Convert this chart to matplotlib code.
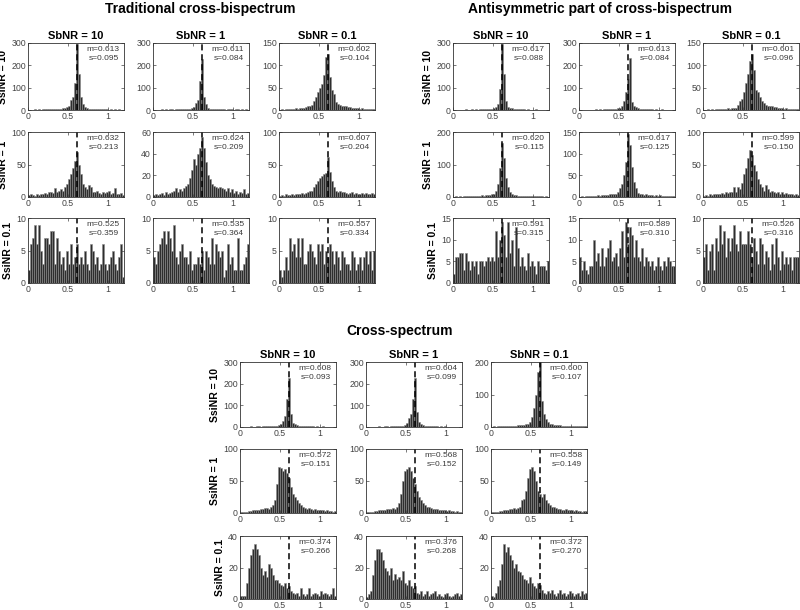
import numpy as np
import matplotlib
matplotlib.use("Agg")
import matplotlib.pyplot as plt

plt.rcParams['font.family'] = ['Liberation Sans', 'DejaVu Sans']

# histogram counts, 48 bins on [0, 1.2]; rows = SsiNR 10, 1, 0.1; cols = SbNR 10, 1, 0.1
trad_10_10 = [2,1,2,3,2,3,2,3,4,3,3,4,3,4,5,5,6,8,10,15,20,45,60,120,295,160,60,25,12,8,6,5,4,4,3,4,3,3,4,3,2,3,2,3,2,3,2,2]
trad_10_1 = [1,2,1,2,3,2,3,2,3,3,2,3,4,3,4,3,3,4,6,8,15,30,45,130,230,60,25,10,6,4,4,3,3,4,3,3,2,3,4,3,2,3,3,2,3,2,3,2]
trad_10_01 = [1,2,1,2,2,3,2,3,4,3,5,4,5,6,8,10,12,20,28,40,50,58,78,118,125,75,45,35,18,14,12,10,8,9,6,7,5,4,5,4,3,4,3,3,2,3,2,3]
trad_1_10 = [3,4,3,2,4,3,5,4,6,5,7,8,6,14,8,10,12,10,15,20,28,35,45,55,70,50,35,20,15,12,18,15,8,7,10,6,5,8,6,7,9,5,6,14,5,4,6,3]
trad_1_1 = [2,3,2,3,4,2,5,3,4,5,6,8,5,7,6,8,10,12,18,25,35,30,40,45,55,45,32,20,17,12,10,9,8,9,8,7,6,8,5,7,4,6,3,5,4,7,3,4]
trad_1_01 = [2,3,2,4,3,3,4,3,4,5,4,6,5,6,8,10,10,15,20,25,30,33,35,37,62,38,25,15,10,8,9,7,8,6,5,6,7,5,6,4,5,6,5,6,4,5,6,4]
trad_01_10 = [2,6,7,9,6,9,5,3,7,7,6,8,8,3,7,5,3,4,2,5,3,6,3,4,6,3,4,3,5,3,2,6,5,3,4,2,3,6,3,2,3,4,5,3,2,4,6,1]
trad_01_1 = [4,3,5,6,7,8,6,8,7,5,9,4,3,5,6,4,4,3,5,2,3,3,4,3,5,2,5,4,3,7,3,6,5,4,5,1,2,6,3,4,2,2,7,2,2,3,4,6]
trad_01_01 = [2,1,2,4,2,7,5,6,4,7,4,7,3,3,5,6,5,4,3,6,5,6,3,5,4,6,5,3,5,4,2,5,4,3,3,2,5,4,2,3,4,2,4,5,3,5,2,5]

anti_10_10 = [1,2,1,2,2,1,3,2,2,3,2,3,2,4,3,3,4,5,5,6,8,15,25,95,295,160,40,15,10,8,6,5,4,4,3,3,2,3,2,2,2,3,2,2,1,2,2,1]
anti_10_1 = [1,1,2,1,2,2,1,2,3,2,3,2,3,3,4,3,4,5,6,8,10,20,40,80,140,235,35,20,12,8,6,5,4,3,4,3,3,2,3,2,2,3,2,2,1,2,1,2]
anti_10_01 = [1,1,2,1,2,1,2,2,3,2,3,3,4,3,5,5,5,12,20,25,40,60,80,110,125,90,45,40,30,20,15,12,10,9,8,6,7,5,4,5,3,4,3,3,2,3,2,2]
anti_1_10 = [1,2,1,2,1,2,3,2,3,3,4,3,4,3,5,4,5,6,7,8,8,20,40,90,165,120,60,30,15,8,6,5,4,4,3,3,4,3,2,3,2,2,3,2,2,1,2,1]
anti_1_1 = [1,2,1,2,2,3,2,3,3,4,3,4,5,4,5,6,6,7,8,12,20,30,50,80,145,120,70,35,20,10,8,6,5,6,4,5,4,3,4,3,4,3,2,3,2,3,2,2]
anti_1_01 = [2,3,2,4,3,4,5,4,5,6,5,7,6,8,7,15,8,15,12,22,35,45,60,72,65,50,40,28,20,15,10,18,12,8,10,7,6,8,5,7,4,6,5,4,5,3,4,3]
anti_01_10 = [2,6,6,7,7,3,7,5,3,5,4,5,2,5,5,4,5,6,5,6,5,12,6,10,14,11,6,14,7,10,4,13,8,4,6,4,3,7,4,5,4,2,5,4,4,4,3,5]
anti_01_1 = [6,3,5,3,2,4,4,10,5,7,4,8,4,6,8,10,5,6,7,4,8,12,6,14,9,13,11,6,10,6,5,8,4,6,5,4,5,3,4,6,4,3,5,4,6,5,4,4]
anti_01_01 = [4,6,2,5,6,2,7,5,9,6,8,4,7,5,7,9,6,5,8,6,6,6,8,6,4,7,5,3,7,6,3,5,4,2,6,3,7,4,2,5,3,4,3,4,2,4,4,4]

cross_10_10 = [1,2,1,2,2,3,2,2,3,3,2,3,3,4,3,4,4,5,6,8,15,30,50,130,225,60,20,12,8,6,5,4,4,3,3,4,3,2,3,2,2,3,2,2,1,2,2,1]
cross_10_1 = [1,1,2,1,2,2,3,2,2,3,3,2,3,3,4,3,4,5,6,8,20,40,60,130,225,70,25,12,8,6,5,4,4,3,3,3,2,3,2,3,2,2,1,2,2,1,2,1]
cross_10_01 = [1,2,1,2,2,3,2,3,3,4,3,4,4,5,5,6,6,8,10,15,30,60,100,170,200,80,40,25,15,10,8,7,6,5,5,4,4,3,4,3,3,2,3,2,2,3,2,2]
cross_1_10 = [1,1,2,2,3,3,4,5,5,4,6,7,8,8,7,9,12,20,45,72,70,65,68,62,55,40,30,25,20,15,12,10,8,7,8,6,5,6,5,4,4,5,3,4,3,3,2,3]
cross_1_1 = [1,1,1,2,3,3,4,4,5,5,6,6,7,8,7,10,15,30,50,65,68,72,65,55,45,35,25,20,16,12,10,9,8,7,6,6,5,5,4,4,3,4,3,3,2,3,2,2]
cross_1_01 = [1,1,2,2,3,3,4,4,5,6,6,8,7,8,10,20,22,35,55,68,72,65,50,35,30,25,30,20,15,12,10,9,8,7,6,5,5,6,4,5,4,3,4,3,3,2,3,3]
cross_01_10 = [2,2,2,10,20,28,32,35,32,28,20,15,18,14,22,20,15,12,12,10,9,8,10,7,8,5,4,3,4,2,7,3,2,3,7,2,3,4,3,2,5,3,4,3,2,3,7,2]
cross_01_1 = [1,3,5,15,25,32,32,30,25,20,18,15,20,12,16,13,14,12,18,10,9,12,8,7,8,4,3,5,2,3,5,2,3,4,5,2,3,2,1,3,4,2,1,2,3,4,2,3]
cross_01_01 = [2,1,4,8,12,22,35,30,33,28,25,20,22,18,17,15,13,12,10,14,10,8,7,10,9,6,4,3,5,4,6,3,2,4,6,3,4,2,3,5,4,2,3,4,2,5,3,4]

trad_m = ["0.613", "0.611", "0.602", "0.632", "0.624", "0.607", "0.525", "0.535", "0.557"]
trad_s = ["0.095", "0.084", "0.104", "0.213", "0.209", "0.204", "0.359", "0.364", "0.334"]
anti_m = ["0.617", "0.613", "0.601", "0.620", "0.617", "0.599", "0.591", "0.589", "0.526"]
anti_s = ["0.088", "0.084", "0.096", "0.115", "0.125", "0.150", "0.315", "0.310", "0.316"]
cross_m = ["0.608", "0.604", "0.600", "0.572", "0.568", "0.558", "0.374", "0.376", "0.372"]
cross_s = ["0.093", "0.099", "0.107", "0.151", "0.152", "0.149", "0.266", "0.268", "0.270"]

trad_ylim = [300, 300, 150, 100, 60, 100, 10, 10, 10]
anti_ylim = [300, 300, 150, 200, 150, 100, 15, 15, 10]
cross_ylim = [300, 300, 200, 100, 100, 100, 40, 40, 40]

col_titles = ["SbNR = 10", "SbNR = 1", "SbNR = 0.1"]
row_titles = ["SsiNR = 10", "SsiNR = 1", "SsiNR = 0.1"]
true_value = 0.615

W, H = 800, 610
fig = plt.figure(figsize=(8, 6.1), dpi=100)


def tick_step(top):
    if top in (300, 200):
        return 100
    if top in (150, 100):
        return 50
    if top in (60, 40):
        return 20
    return 5


def draw_block(title, title_xy, xs, rows, counts, ms, ss, ylims):
    fig.text(title_xy[0] / W, 1 - title_xy[1] / H, title, ha='center', va='center',
             fontsize=10, fontweight='bold')
    edges = np.linspace(0, 1.2, 49)
    centers = (edges[:-1] + edges[1:]) / 2
    for r in range(3):
        for c in range(3):
            k = r * 3 + c
            x0 = xs[c]
            top, bottom = rows[r]
            ax = fig.add_axes([x0 / W, 1 - bottom / H, 96 / W, (bottom - top) / H])
            ax.bar(centers, counts[k], width=0.025, color='#2e2e2e',
                   edgecolor='#8a8a8a', linewidth=0.4)
            ax.axvline(true_value, color='black', linestyle='--', linewidth=1.1, dashes=(4, 2.5))
            ax.set_xlim(0, 1.2)
            ax.set_ylim(0, ylims[k])
            ax.set_xticks([0, 0.5, 1])
            ax.set_xticklabels(['0', '0.5', '1'])
            ax.set_yticks(np.arange(0, ylims[k] + 1, tick_step(ylims[k])))
            ax.tick_params(direction='in', top=True, right=True, length=2, width=0.5,
                           labelsize=6.3, colors='#444444', pad=1.5)
            for sp in ax.spines.values():
                sp.set_linewidth(0.6)
                sp.set_color('#333333')
            ax.text(0.95, 0.95, "m=" + ms[k] + "\ns=" + ss[k], transform=ax.transAxes,
                    ha='right', va='top', fontsize=6, color='#3a3a3a', linespacing=1.35)
            if r == 0:
                ax.set_title(col_titles[c], fontsize=8, fontweight='bold', pad=3)
            if c == 0:
                ax.set_ylabel(row_titles[r], fontsize=7.5, fontweight='bold', labelpad=2)


trad = [trad_10_10, trad_10_1, trad_10_01, trad_1_10, trad_1_1, trad_1_01, trad_01_10, trad_01_1, trad_01_01]
anti = [anti_10_10, anti_10_1, anti_10_01, anti_1_10, anti_1_1, anti_1_01, anti_01_10, anti_01_1, anti_01_01]
cross = [cross_10_10, cross_10_1, cross_10_01, cross_1_10, cross_1_1, cross_1_01, cross_01_10, cross_01_1, cross_01_01]

top_rows = [(43, 110), (132, 197), (218, 283)]
cross_rows = [(362, 427), (449, 513), (536, 599)]

draw_block("Traditional cross-bispectrum", (200, 9), [28, 153, 279], top_rows,
           trad, trad_m, trad_s, trad_ylim)
draw_block("Antisymmetric part of cross-bispectrum", (600, 9), [453, 579, 703], top_rows,
           anti, anti_m, anti_s, anti_ylim)
draw_block("Cross-spectrum", (400, 331), [240, 366, 491], cross_rows,
           cross, cross_m, cross_s, cross_ylim)

fig.savefig("out.png", dpi=100, facecolor='white')
